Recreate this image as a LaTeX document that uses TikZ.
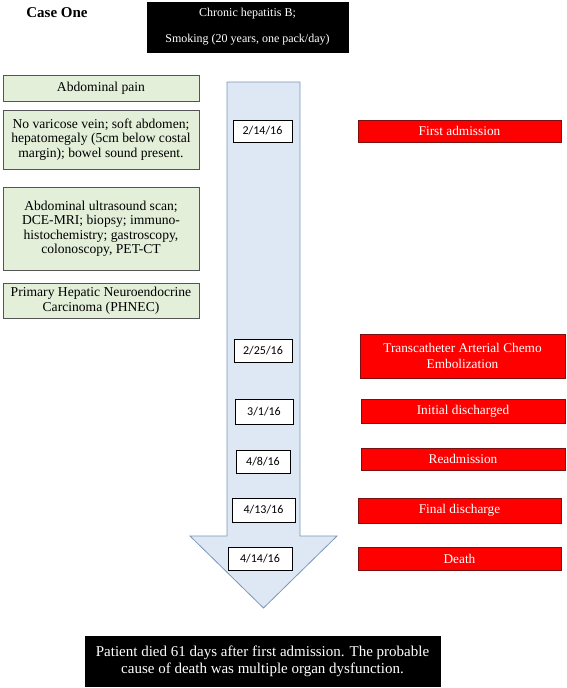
\documentclass[tikz,border=0pt]{standalone}
\usepackage{fontspec}
\setmainfont{Liberation Serif}
\newfontfamily\datefont{Carlito}
\definecolor{greenfill}{HTML}{E3EFD9}
\definecolor{greenline}{HTML}{555555}
\definecolor{arrowfill}{HTML}{DDE8F4}
\definecolor{arrowline}{HTML}{7A96BC}
\definecolor{redfill}{HTML}{FF0000}
\definecolor{redline}{HTML}{7A1010}
\tikzset{
  greenbox/.style={draw=greenline, fill=greenfill, line width=0.8pt, inner sep=0pt, align=center, font=\rmfamily\fontsize{13.6}{14.5}\selectfont},
  datebox/.style={draw=black, fill=white, line width=0.8pt, inner sep=0pt, font=\datefont\fontsize{12}{14}\selectfont},
  redbox/.style={draw=redline, fill=redfill, line width=0.6pt, inner sep=0pt, align=center, text=white, font=\rmfamily\fontsize{13.3}{16}\selectfont},
  blackbox/.style={draw=black, fill=black, inner sep=0pt, align=center, text=white},
}
\begin{document}
\begin{tikzpicture}[x=1pt,y=-1pt]
\useasboundingbox (0,0) rectangle (567,688);
\node[font=\rmfamily\bfseries\fontsize{15}{18}\selectfont] (title) at (57,13) {Case One};
\node[blackbox, minimum width=201pt, minimum height=50pt, font=\rmfamily\fontsize{12}{26}\selectfont] (top) at (247.5,27) {Chronic hepatitis B;\\Smoking (20 years, one pack/day)};
% timeline arrow
\draw[arrowline, fill=arrowfill, line width=0.8pt, line join=miter] (227,82) -- (300,82) -- (300,536) -- (337,536) -- (263.5,608) -- (190,536) -- (227,536) -- cycle;
% green boxes
\node[greenbox, minimum width=196pt, minimum height=26pt] (g1) at (101,88) {Abdominal pain};
\node[greenbox, minimum width=196pt, minimum height=59pt] (g2) at (101,139.5) {No varicose vein; soft abdomen;\\hepatomegaly (5cm below costal\\margin); bowel sound present.};
\node[greenbox, minimum width=196pt, minimum height=83pt] (g3) at (101,228.5) {Abdominal ultrasound scan;\\DCE-MRI; biopsy; immuno-\\histochemistry; gastroscopy,\\colonoscopy, PET-CT};
\node[greenbox, minimum width=196pt, minimum height=35pt] (g4) at (101,300.5) {Primary Hepatic Neuroendocrine\\Carcinoma (PHNEC)};
% dates
\node[datebox, minimum width=59pt, minimum height=22pt] (d1) at (262.5,131) {2/14/16};
\node[datebox, minimum width=58pt, minimum height=23pt] (d2) at (263,350.5) {2/25/16};
\node[datebox, minimum width=58pt, minimum height=25pt] (d3) at (264,411.5) {3/1/16};
\node[datebox, minimum width=54pt, minimum height=23pt] (d4) at (263,461.5) {4/8/16};
\node[datebox, minimum width=63pt, minimum height=24pt] (d5) at (263.5,510) {4/13/16};
\node[datebox, minimum width=64pt, minimum height=23pt] (d6) at (260,558.5) {4/14/16};
% events
\node[redbox, minimum width=203pt, minimum height=22pt] (r1) at (459.5,131) {First admission};
\node[redbox, minimum width=205pt, minimum height=44pt] (r2) at (462.5,356) {Transcatheter Arterial Chemo\\Embolization};
\node[redbox, minimum width=204pt, minimum height=24pt] (r3) at (463,411) {Initial discharged};
\node[redbox, minimum width=204pt, minimum height=22pt] (r4) at (463,459) {Readmission};
\node[redbox, minimum width=203pt, minimum height=25pt] (r5) at (459.5,510.5) {Final discharge};
\node[redbox, minimum width=203pt, minimum height=23pt] (r6) at (459.5,558.5) {Death};
% conclusion
\node[blackbox, minimum width=355pt, minimum height=50pt, font=\rmfamily\fontsize{15}{17}\selectfont] (bottom) at (262.5,661) {Patient died 61 days after first admission. The probable\\cause of death was multiple organ dysfunction.};
\end{tikzpicture}
\end{document}
